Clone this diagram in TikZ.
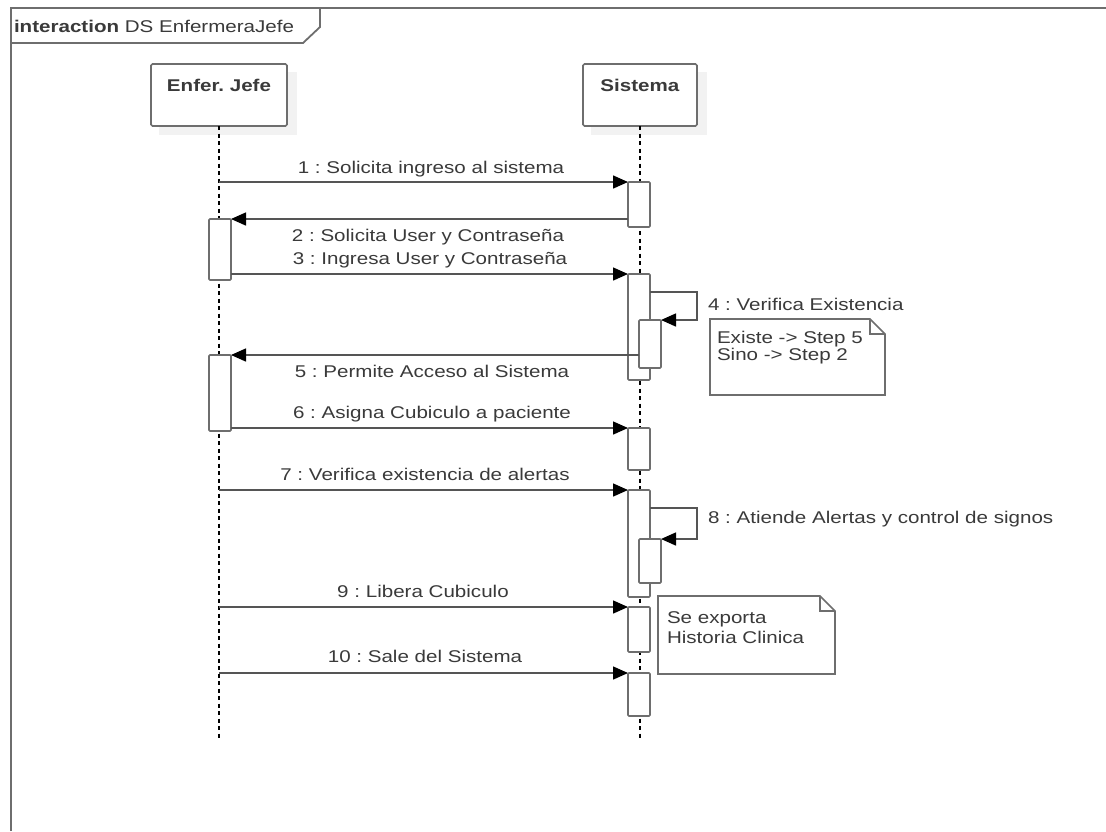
\documentclass[tikz,border=0pt]{standalone}
\usepackage{fontspec}
\setmainfont{Liberation Sans}[FakeStretch=1.21]
\frenchspacing
\usetikzlibrary{arrows.meta}
\definecolor{ln}{HTML}{6E6E6E}
\definecolor{ml}{HTML}{555555}
\definecolor{txt}{HTML}{3A3A3A}
\definecolor{shd}{HTML}{F2F2F2}
\begin{document}
\begin{tikzpicture}[x=1pt,y=-1pt,
  every node/.style={font=\fontsize{17}{20}\selectfont, text=txt},
  lbl/.style={inner sep=0pt, outer sep=0pt, anchor=base},
  lbll/.style={inner sep=0pt, outer sep=0pt, anchor=base west},
  actor/.style={draw=ln, line width=1.6pt, fill=white, rounded corners=1.5pt, inner sep=0pt, outer sep=0pt, anchor=north west, minimum height=62pt},
  act/.style={draw=ln, line width=1.6pt, fill=white, rounded corners=1pt, inner sep=0pt, outer sep=0pt, anchor=north west, minimum width=22pt},
  msg/.style={draw=ml, line width=1.5pt, -{Triangle[length=15pt,width=13pt,color=black]}},
  life/.style={draw=black, line width=1.1pt, dash pattern=on 4pt off 3.5pt},
  notebox/.style={draw=ln, line width=1.6pt, fill=white},
  frame/.style={draw=ln, line width=1.8pt}
]
\useasboundingbox (0,0) rectangle (1106,831);
\fill[white] (0,0) rectangle (1106,831);
% frame
\draw[frame] (11,831) -- (11,8) -- (1106,8);
\draw[frame] (11,43) -- (303,43) -- (320,27) -- (320,8);
\node[lbll] (title) at (14,32) {\textbf{interaction} DS EnfermeraJefe};
% actors
\fill[shd] (159,72) rectangle (297,135);
\fill[shd] (591,72) rectangle (707,135);
\node[actor, minimum width=136pt] (jefe) at (151,64) {};
\node[actor, minimum width=114pt] (sis) at (583,64) {};
\node[lbl] (jefet) at (jefe.north |- 0,91) {\textbf{Enfer. Jefe}};
\node[lbl] (sist) at (sis.north |- 0,91) {\textbf{Sistema}};
% lifelines
\coordinate (jefeend) at (219,740);
\coordinate (sisend) at (640,740);
\draw[life] (jefe.south) -- (jefeend);
\draw[life] (sis.south) -- (sisend);
% activations
\node[act, minimum height=45pt] (a1) at (628,182) {};
\node[act, minimum height=61pt] (e1) at (209,219) {};
\node[act, minimum height=106pt] (a2) at (628,274) {};
\node[act, minimum height=48pt] (n1) at (639,320) {};
\node[act, minimum height=76pt] (e2) at (209,355) {};
\node[act, minimum height=42pt] (a3) at (628,428) {};
\node[act, minimum height=107pt] (a4) at (628,490) {};
\node[act, minimum height=44pt] (n2) at (639,539) {};
\node[act, minimum height=45pt] (a5) at (628,607) {};
\node[act, minimum height=43pt] (a6) at (628,673) {};
% messages
\draw[msg] (jefe.south |- a1.north west) -- (a1.north west);
\draw[msg] (a1.west |- e1.north east) -- (e1.north east);
\draw[msg] (e1.east |- a2.north west) -- (a2.north west);
\coordinate (s4) at (697,292);
\draw[msg] (a2.east |- s4) -- (s4) |- (n1.north east);
\draw[msg] (n1.west |- e2.north east) -- (e2.north east);
\draw[msg] (e2.east |- a3.north west) -- (a3.north west);
\draw[msg] (jefe.south |- a4.north west) -- (a4.north west);
\coordinate (s8) at (697,508);
\draw[msg] (a4.east |- s8) -- (s8) |- (n2.north east);
\draw[msg] (jefe.south |- a5.north west) -- (a5.north west);
\draw[msg] (jefe.south |- a6.north west) -- (a6.north west);
% labels
\node[lbl] (l1) at (431,173) {1 : Solicita ingreso al sistema};
\node[lbl] (l2) at (428,241) {2 : Solicita User y Contraseña};
\node[lbl] (l3) at (430,264) {3 : Ingresa User y Contraseña};
\node[lbll] (l4) at (708,310) {4 : Verifica Existencia};
\node[lbl] (l5) at (432,377) {5 : Permite Acceso al Sistema};
\node[lbl] (l6) at (432,418) {6 : Asigna Cubiculo a paciente};
\node[lbl] (l7) at (425,480) {7 : Verifica existencia de alertas};
\node[lbll] (l8) at (708,523) {8 : Atiende Alertas y control de signos};
\node[lbl] (l9) at (423,597) {9 : Libera Cubiculo};
\node[lbl] (l10) at (425,662) {10 : Sale del Sistema};
% notes
\draw[notebox] (710,319) -- (870,319) -- (885,334) -- (885,395) -- (710,395) -- cycle;
\draw[draw=ln, line width=1.2pt] (870,319) -- (870,334) -- (885,334);
\node[lbll] (nt1) at (717,343) {Existe -> Step 5};
\node[lbll] (nt2) at (717,360) {Sino -> Step 2};
\draw[notebox] (658,596) -- (820,596) -- (835,611) -- (835,674) -- (658,674) -- cycle;
\draw[draw=ln, line width=1.2pt] (820,596) -- (820,611) -- (835,611);
\node[lbll] (nt3) at (667,623) {Se exporta};
\node[lbll] (nt4) at (667,643) {Historia Clinica};
\end{tikzpicture}
\end{document}
